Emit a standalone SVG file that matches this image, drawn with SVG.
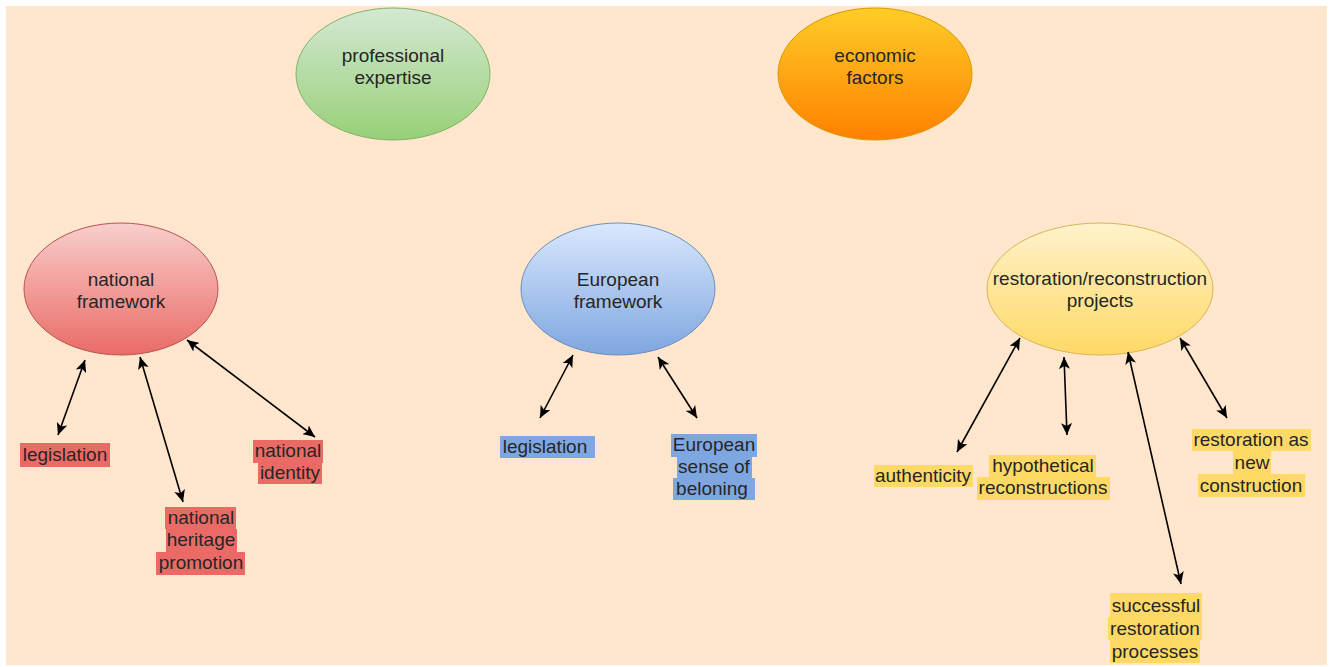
<svg xmlns="http://www.w3.org/2000/svg" width="1333" height="667" viewBox="0 0 1333 667">
<defs>
<linearGradient id="gGreen" x1="0" y1="0" x2="0" y2="1"><stop offset="0" stop-color="#d5e8d4"/><stop offset="1" stop-color="#97d077"/></linearGradient>
<linearGradient id="gOrange" x1="0" y1="0" x2="0" y2="1"><stop offset="0" stop-color="#ffcd28"/><stop offset="1" stop-color="#ff8000"/></linearGradient>
<linearGradient id="gRed" x1="0" y1="0" x2="0" y2="1"><stop offset="0" stop-color="#f8cecc"/><stop offset="1" stop-color="#ea6b66"/></linearGradient>
<linearGradient id="gBlue" x1="0" y1="0" x2="0" y2="1"><stop offset="0" stop-color="#dae8fc"/><stop offset="1" stop-color="#7ea6e0"/></linearGradient>
<linearGradient id="gYellow" x1="0" y1="0" x2="0" y2="1"><stop offset="0" stop-color="#fff2cc"/><stop offset="1" stop-color="#ffd966"/></linearGradient>
<marker id="arr" markerUnits="userSpaceOnUse" markerWidth="13" markerHeight="11" refX="12" refY="5.5" orient="auto-start-reverse" viewBox="0 0 13 11">
<path d="M0,0 L12,5.5 L0,11 L3,5.5 z" fill="#000"/>
</marker>
</defs>
<style>
text{font-family:"Liberation Sans",Arial,sans-serif;font-size:19px;fill:#262626;text-anchor:middle}
.conn line{stroke:#000;stroke-width:1.6;marker-start:url(#arr);marker-end:url(#arr)}
.hr{fill:#ea6b66}
.hb{fill:#7ea6e0}
.hy{fill:#ffd966}
</style>
<rect x="0" y="0" width="1333" height="667" fill="#ffffff"/>
<rect x="6" y="6" width="1321" height="659" fill="#ffe6cc"/>

<g id="professional-expertise">
<ellipse cx="393" cy="74" rx="97" ry="66" fill="url(#gGreen)" stroke="#82b366" stroke-width="1"/>
<text x="393" y="62">professional</text><text x="393" y="84">expertise</text>
</g>
<g id="economic-factors">
<ellipse cx="875" cy="74" rx="97" ry="66" fill="url(#gOrange)" stroke="#d79b00" stroke-width="1"/>
<text x="875" y="62">economic</text><text x="875" y="84">factors</text>
</g>
<g id="national-framework">
<ellipse cx="121" cy="289" rx="97" ry="66" fill="url(#gRed)" stroke="#b85450" stroke-width="1"/>
<text x="121" y="286">national</text><text x="121" y="308">framework</text>
</g>
<g id="european-framework">
<ellipse cx="618" cy="289" rx="97" ry="66" fill="url(#gBlue)" stroke="#6c8ebf" stroke-width="1"/>
<text x="618" y="286">European</text><text x="618" y="308">framework</text>
</g>
<g id="restoration-projects">
<ellipse cx="1100" cy="289" rx="113" ry="66" fill="url(#gYellow)" stroke="#d6b656" stroke-width="1"/>
<text x="1100" y="285">restoration/reconstruction</text><text x="1100" y="307">projects</text>
</g>

<g id="nat-legislation">
<rect class="hr" x="20" y="443" width="90" height="24"/>
<text x="65" y="461">legislation</text>
</g>
<g id="nat-heritage-promotion">
<rect class="hr" x="165" y="507" width="71" height="22"/>
<rect class="hr" x="166" y="529" width="71" height="23"/>
<rect class="hr" x="156" y="552" width="89" height="23"/>
<text x="201" y="524">national</text>
<text x="201" y="546">heritage</text>
<text x="201" y="569">promotion</text>
</g>
<g id="nat-identity">
<rect class="hr" x="253" y="440" width="70" height="23"/>
<rect class="hr" x="258" y="463" width="64" height="21"/>
<text x="288" y="457">national</text>
<text x="290" y="479">identity</text>
</g>

<g id="eu-legislation">
<rect class="hb" x="500" y="436" width="95" height="22"/>
<text x="545" y="453">legislation</text>
</g>
<g id="eu-sense-of-belonging">
<rect class="hb" x="671" y="434" width="86" height="23"/>
<rect class="hb" x="677" y="457" width="75" height="21"/>
<rect class="hb" x="673" y="478" width="82" height="22"/>
<text x="714" y="451">European</text>
<text x="714" y="473">sense of</text>
<text x="712" y="495">beloning</text>
</g>

<g id="authenticity">
<rect class="hy" x="874" y="465" width="99" height="22"/>
<text x="923" y="482">authenticity</text>
</g>
<g id="hypothetical-reconstructions">
<rect class="hy" x="989" y="455" width="107" height="22"/>
<rect class="hy" x="977" y="477" width="133" height="23"/>
<text x="1043" y="472">hypothetical</text>
<text x="1043" y="494">reconstructions</text>
</g>
<g id="restoration-as-new-construction">
<rect class="hy" x="1192" y="429" width="119" height="22"/>
<rect class="hy" x="1233" y="451" width="38" height="23"/>
<rect class="hy" x="1198" y="474" width="107" height="23"/>
<text x="1251" y="446">restoration as</text>
<text x="1252" y="469">new</text>
<text x="1251" y="492">construction</text>
</g>
<g id="successful-restoration-processes">
<rect class="hy" x="1110" y="593" width="92" height="24"/>
<rect class="hy" x="1108" y="617" width="94" height="23"/>
<rect class="hy" x="1110" y="640" width="90" height="23"/>
<text x="1156" y="612">successful</text>
<text x="1155" y="635">restoration</text>
<text x="1155" y="658">processes</text>
</g>

<g id="connectors" class="conn">
<line x1="85" y1="360" x2="58" y2="435"/>
<line x1="140" y1="357" x2="183" y2="502"/>
<line x1="187" y1="340" x2="315" y2="437"/>
<line x1="573" y1="355" x2="540" y2="418"/>
<line x1="658" y1="357" x2="697" y2="418"/>
<line x1="1020" y1="338" x2="957" y2="452"/>
<line x1="1064" y1="357" x2="1067" y2="435"/>
<line x1="1128" y1="352" x2="1181" y2="584"/>
<line x1="1180" y1="338" x2="1227" y2="418"/>
</g>
</svg>
